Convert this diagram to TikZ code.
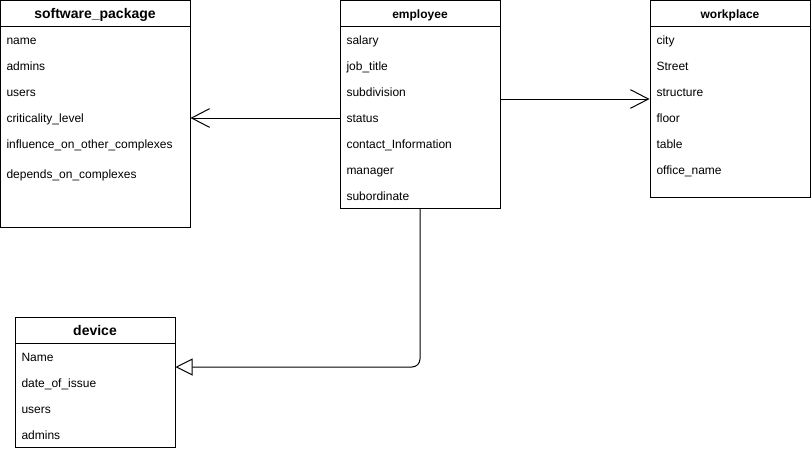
\documentclass[tikz,border=0pt]{standalone}
\usepackage{fontspec}
\setmainfont{Liberation Sans}
\usetikzlibrary{arrows.meta,fit}
\begin{document}
\begin{tikzpicture}[x=0.75pt,y=-0.75pt,line width=0.75pt,
  box/.style={draw=black,inner sep=0pt,fit={#1}},
  rowtext/.style={anchor=base west,inner sep=0pt,font=\fontsize{9pt}{11pt}\selectfont},
  bigtitle/.style={anchor=base,inner sep=0pt,font=\fontsize{10.5pt}{12pt}\selectfont\bfseries},
  smalltitle/.style={anchor=base,inner sep=0pt,font=\fontsize{9pt}{11pt}\selectfont\bfseries},
  openvee/.style={-{Straight Barb[length=13.5pt,width=14pt]}},
  opentri/.style={-{Triangle[open,length=12.75pt,width=12.75pt]}}]
\useasboundingbox (0,0) rectangle (811,451);
% software_package
\node[box={(0.5,0.5)(190,227)}] (sw) {};
\node[box={(0.5,0.5)(190,26)}] (swh) {};
\node[bigtitle] (swt) at (95,18) {software\_package};
\node[rowtext] (sw1) at (6,44) {name};
\node[rowtext] (sw2) at (6,70) {admins};
\node[rowtext] (sw3) at (6,96) {users};
\node[rowtext] (sw4) at (6,122) {criticality\_level};
\node[rowtext] (sw5) at (6,148) {influence\_on\_other\_complexes};
\node[rowtext] (sw6) at (6,178) {depends\_on\_complexes};
% employee
\node[box={(340,0.5)(500,208)}] (emp) {};
\node[box={(340,0.5)(500,26)}] (emph) {};
\node[smalltitle] (empt) at (420,18) {employee};
\node[rowtext] (e1) at (346,44) {salary};
\node[rowtext] (e2) at (346,70) {job\_title};
\node[rowtext] (e3) at (346,96) {subdivision};
\node[rowtext] (e4) at (346,122) {status};
\node[rowtext] (e5) at (346,148) {contact\_Information};
\node[rowtext] (e6) at (346,174) {manager};
\node[rowtext] (e7) at (346,200) {subordinate};
% workplace
\node[box={(650,0.5)(810,197)}] (wp) {};
\node[box={(650,0.5)(810,26)}] (wph) {};
\node[smalltitle] (wpt) at (730,18) {workplace};
\node[rowtext] (w1) at (656,44) {city};
\node[rowtext] (w2) at (656,70) {Street};
\node[rowtext] (w3) at (656,96) {structure};
\node[rowtext] (w4) at (656,122) {floor};
\node[rowtext] (w5) at (656,148) {table};
\node[rowtext] (w6) at (656,174) {office\_name};
% device
\node[box={(15,317)(175,447)}] (dv) {};
\node[box={(15,317)(175,343)}] (dvh) {};
\node[bigtitle] (dvt) at (95,335) {device};
\node[rowtext] (d1) at (21,361) {Name};
\node[rowtext] (d2) at (21,387) {date\_of\_issue};
\node[rowtext] (d3) at (21,413) {users};
\node[rowtext] (d4) at (21,439) {admins};
% connectors
\coordinate (ysw) at (265,118);
\coordinate (ywp) at (575,99);
\coordinate (elbow) at (420,367);
\draw[openvee] (emp.west |- ysw) -- (sw.east |- ysw);
\draw[openvee] (emp.east |- ywp) -- (wp.west |- ywp);
\draw[opentri,rounded corners=6pt] (emp.south) -- (elbow) -- (dv.east |- elbow);
\end{tikzpicture}
\end{document}
